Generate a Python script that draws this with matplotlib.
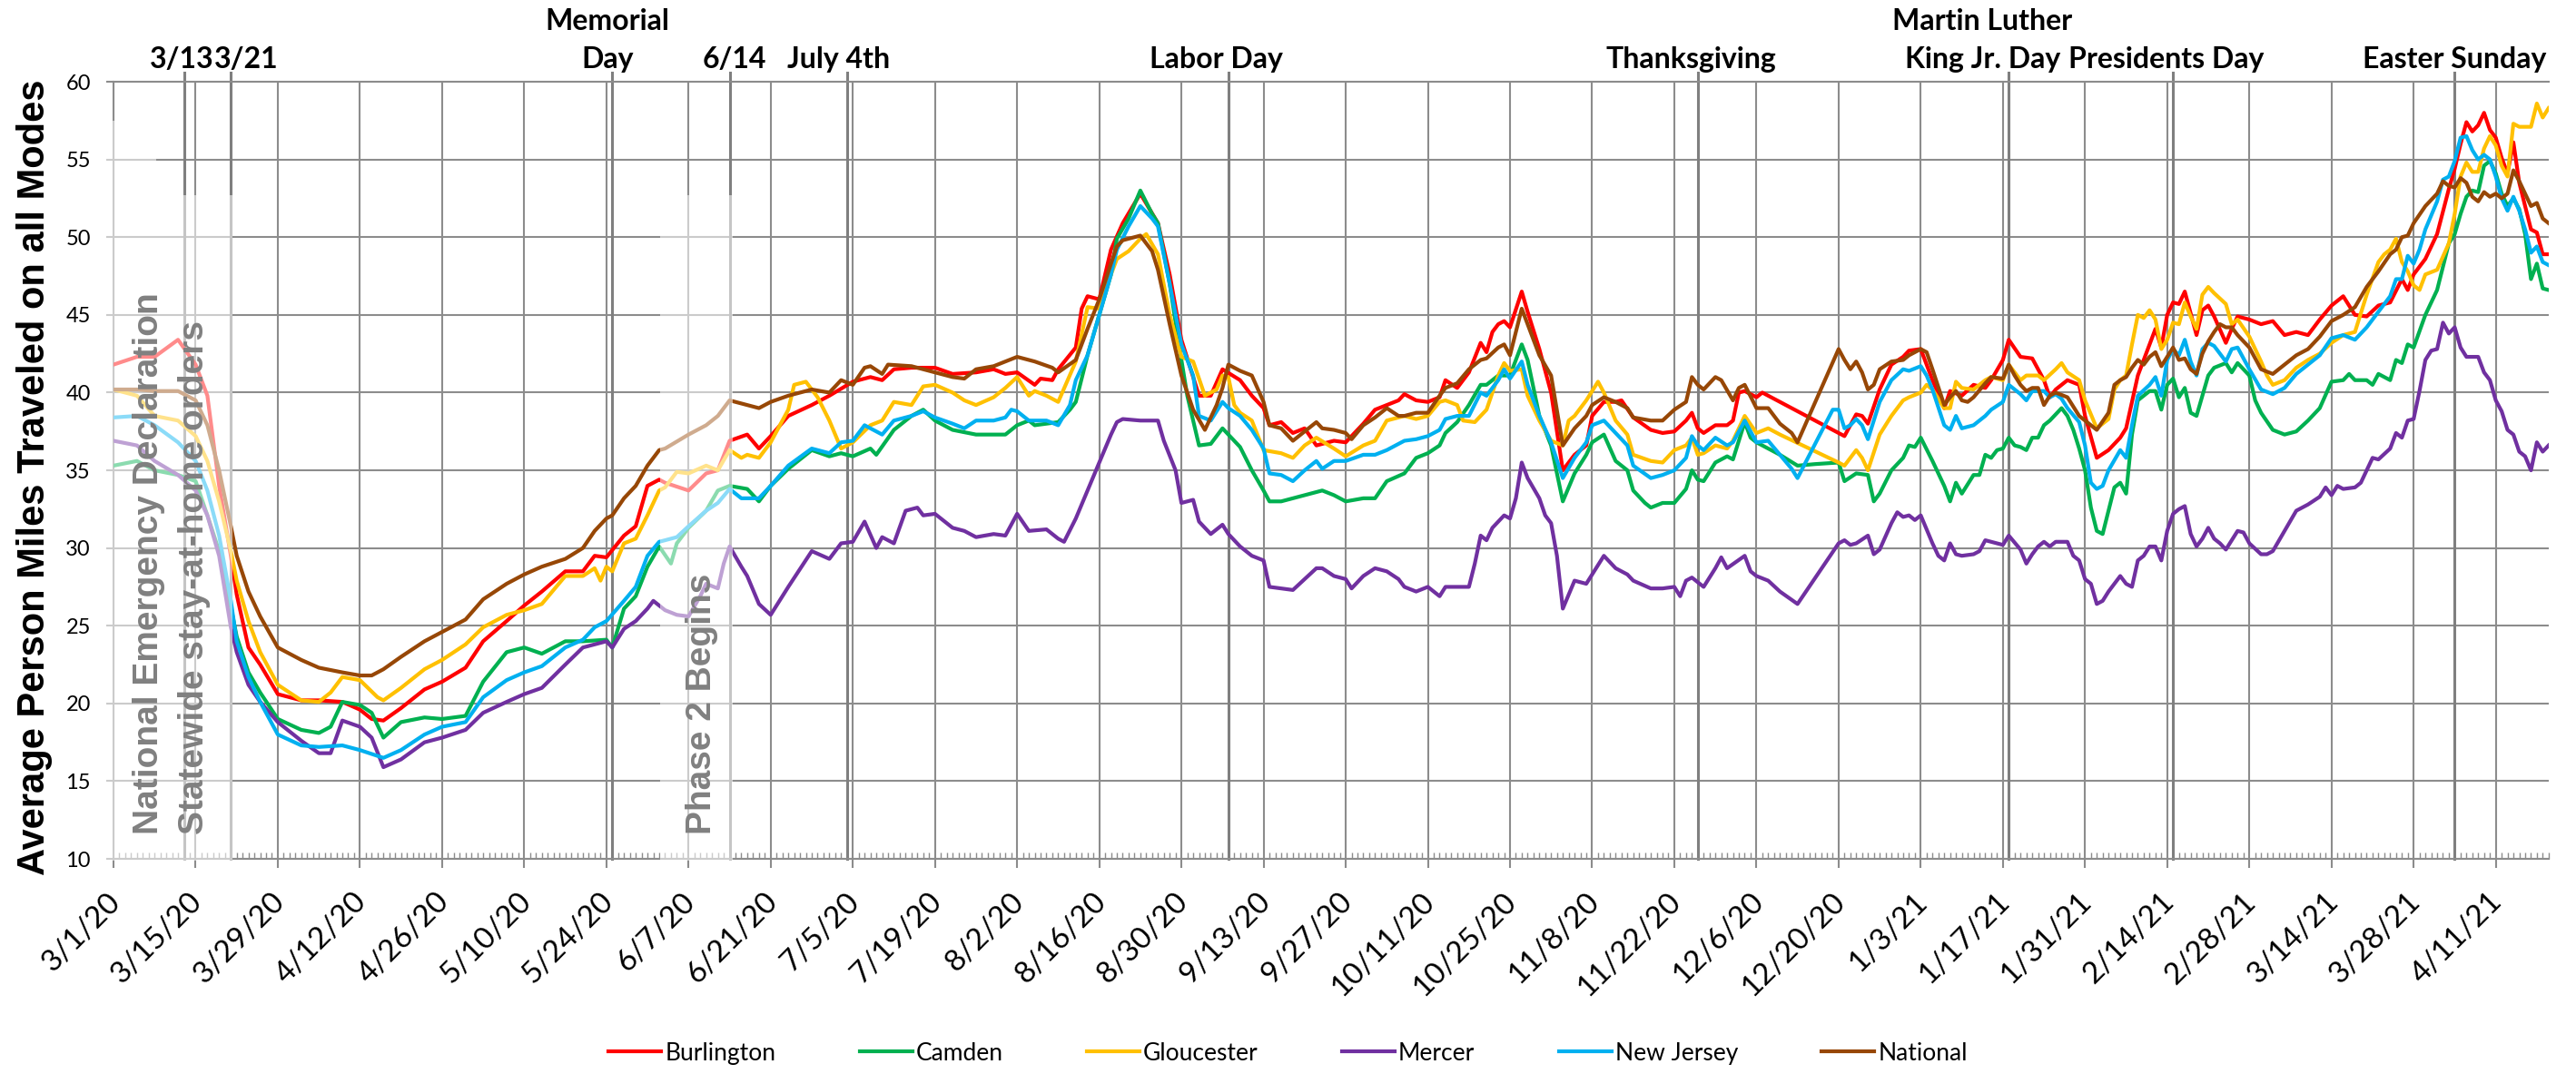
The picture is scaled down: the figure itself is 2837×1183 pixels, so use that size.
import numpy as np
import pandas as pd
import matplotlib
matplotlib.use("Agg")
import matplotlib.pyplot as plt
import matplotlib.dates as mdates
from matplotlib.patches import Rectangle
from matplotlib.ticker import FixedLocator, MultipleLocator
from matplotlib.lines import Line2D
from matplotlib.transforms import blended_transform_factory, ScaledTranslation

# ---------------- data (day offset from 3/1/2020, value) ----------------
START = pd.Timestamp("2020-03-01")
LAST_DAY = 415

burlington = [(0,41.8),(4,42.3),(7,42.3),(11,43.4),(14,41.8),(16,39.8),(18,34.0),(20,29.5),(21,27.0),(23,23.6),(25,22.5),(28,20.6),(32,20.2),(35,20.2),(39,20.1),(42,19.6),(44,19.0),(46,18.9),(49,19.7),(53,20.9),(56,21.4),(60,22.3),(63,24.0),(67,25.3),(70,26.3),(73,27.2),(77,28.5),(80,28.5),(82,29.5),(84,29.4),(87,30.8),(89,31.4),(91,34.0),(93,34.4),(94,34.2),(98,33.7),(101,34.8),(103,35.0),(105,36.9),(108,37.3),(110,36.4),(112,37.2),(115,38.5),(119,39.2),(122,39.8),(126,40.7),(129,41.0),(131,40.8),(133,41.5),(136,41.6),(140,41.6),(143,41.2),(147,41.3),(150,41.5),(152,41.2),(154,41.3),(157,40.5),(158,40.9),(160,40.8),(161,41.5),(164,42.9),(165,45.4),(166,46.2),(168,46.0),(170,49.2),(172,50.9),(175,52.8),(178,50.9),(180,47.6),(182,43.4),(185,39.8),(187,39.8),(189,41.5),(192,40.8),(194,39.8),(196,39.0),(197,37.9),(199,38.1),(201,37.4),(203,37.7),(205,36.6),(208,36.9),(210,36.8),(213,38.0),(215,38.9),(217,39.2),(219,39.5),(220,39.9),(222,39.5),(224,39.4),(226,39.7),(227,40.8),(229,40.3),(231,41.3),(233,43.2),(234,42.6),(235,43.9),(236,44.4),(237,44.6),(238,44.2),(240,46.5),(241,45.2),(243,42.8),(245,40.0),(247,35.0),(249,36.0),(251,36.6),(252,38.5),(254,39.4),(256,39.4),(257,39.5),(259,38.4),(262,37.6),(264,37.4),(266,37.5),(268,38.2),(269,38.7),(270,37.7),(271,37.4),(273,37.9),(275,37.9),(276,38.2),(277,40.0),(278,40.1),(280,39.7),(281,40.0),(295,37.2),(296,37.9),(297,38.6),(298,38.5),(299,38.0),(301,40.2),(303,41.8),(305,42.3),(306,42.7),(308,42.8),(310,40.8),(312,39.0),(313,40.1),(315,39.8),(317,40.5),(319,40.3),(320,40.8),(322,42.1),(323,43.4),(325,42.3),(327,42.2),(329,40.8),(330,39.7),(331,40.2),(333,40.8),(335,40.5),(336,38.5),(338,35.8),(340,36.3),(342,37.1),(343,37.7),(345,41.1),(347,43.1),(348,44.1),(349,42.9),(350,45.0),(351,45.8),(352,45.7),(353,46.5),(355,43.7),(356,45.3),(357,45.6),(358,44.9),(360,43.2),(361,44.1),(362,44.9),(364,44.7),(366,44.4),(368,44.6),(370,43.7),(372,43.9),(374,43.7),(376,44.7),(378,45.6),(380,46.2),(382,45.0),(384,44.9),(386,45.6),(388,45.8),(390,47.3),(391,46.6),(392,47.6),(394,48.6),(396,50.2),(398,53.1),(399,54.4),(400,56.0),(401,57.4),(402,56.8),(403,57.2),(404,58.0),(405,56.9),(406,56.4),(407,55.1),(408,54.1),(409,56.1),(410,53.5),(412,50.5),(413,50.3),(414,48.9),(415,48.9)]

camden = [(0,35.3),(4,35.6),(7,35.0),(11,34.7),(14,34.3),(16,32.1),(18,29.8),(20,26.2),(21,24.3),(23,22.0),(25,20.7),(28,19.0),(32,18.3),(35,18.1),(37,18.5),(39,20.1),(42,19.9),(44,19.4),(46,17.8),(49,18.8),(53,19.1),(56,19.0),(60,19.2),(63,21.4),(67,23.3),(70,23.6),(73,23.2),(77,24.0),(80,24.0),(84,24.1),(85,23.6),(87,26.1),(89,26.9),(91,28.8),(93,30.1),(95,29.0),(96,30.3),(98,31.3),(101,32.4),(103,33.7),(105,34.0),(108,33.8),(110,33.0),(112,34.0),(115,35.1),(119,36.3),(122,35.9),(124,36.1),(126,35.9),(129,36.4),(130,36.0),(133,37.6),(136,38.5),(138,38.9),(140,38.2),(143,37.6),(147,37.3),(150,37.3),(152,37.3),(154,37.9),(156,38.2),(157,37.9),(161,38.1),(163,38.9),(164,39.4),(166,42.4),(168,45.0),(170,47.6),(171,49.9),(173,51.2),(175,53.0),(177,51.5),(178,50.9),(180,47.0),(182,42.1),(183,39.8),(185,36.6),(187,36.7),(189,37.7),(192,36.5),(194,35.0),(196,33.7),(197,33.0),(199,33.0),(203,33.4),(206,33.7),(208,33.4),(210,33.0),(213,33.2),(215,33.2),(217,34.3),(220,34.8),(222,35.8),(224,36.1),(226,36.6),(227,37.4),(229,38.1),(231,39.2),(233,40.5),(234,40.5),(236,41.1),(238,41.1),(240,43.1),(241,42.1),(243,38.5),(245,36.6),(247,33.0),(249,34.8),(251,36.0),(252,36.8),(254,37.3),(256,35.6),(258,35.0),(259,33.7),(261,32.9),(262,32.6),(264,32.9),(266,32.9),(268,33.8),(269,35.0),(270,34.4),(271,34.3),(273,35.5),(275,35.9),(276,35.7),(278,38.1),(279,37.1),(280,36.8),(284,36.0),(287,35.3),(290,35.4),(294,35.5),(295,34.3),(297,34.8),(299,34.7),(300,33.0),(301,33.5),(303,35.0),(305,35.8),(306,36.6),(307,36.5),(308,37.1),(310,35.6),(312,34.0),(313,33.0),(314,34.2),(315,33.5),(317,34.7),(318,34.7),(319,36.0),(320,35.8),(321,36.3),(322,36.4),(323,37.1),(324,36.6),(325,36.5),(326,36.3),(327,37.1),(328,37.1),(329,37.9),(330,38.2),(332,39.0),(333,38.5),(334,37.6),(335,36.4),(336,35.0),(337,32.6),(338,31.1),(339,30.9),(340,32.4),(341,33.9),(342,34.2),(343,33.5),(344,37.3),(345,39.5),(347,40.1),(348,40.1),(349,38.9),(350,40.5),(351,40.9),(352,39.7),(353,40.3),(354,38.7),(355,38.5),(356,39.8),(357,41.1),(358,41.6),(360,41.9),(361,41.3),(362,41.9),(364,41.1),(365,39.5),(366,38.7),(368,37.6),(370,37.3),(372,37.5),(374,38.2),(376,39.0),(378,40.7),(380,40.8),(381,41.2),(382,40.8),(384,40.8),(385,40.5),(386,41.2),(388,40.8),(389,42.1),(390,41.9),(391,43.1),(392,42.9),(394,45.0),(396,46.6),(398,49.6),(399,50.2),(400,51.5),(401,52.6),(402,53.0),(403,52.9),(404,54.6),(405,54.9),(406,54.1),(407,52.8),(408,52.0),(409,52.5),(410,51.8),(411,50.2),(412,47.3),(413,48.3),(414,46.7),(415,46.6)]

gloucester = [(0,40.2),(4,39.8),(7,38.5),(11,38.2),(14,37.2),(16,35.6),(18,33.0),(20,29.8),(21,27.9),(23,25.3),(25,23.3),(28,21.2),(32,20.2),(35,20.1),(37,20.7),(39,21.7),(42,21.5),(45,20.4),(46,20.2),(49,21.0),(53,22.2),(56,22.8),(60,23.8),(63,24.9),(67,25.7),(70,26.0),(73,26.4),(77,28.2),(80,28.2),(82,28.7),(83,27.9),(84,28.8),(85,28.5),(87,30.3),(89,30.6),(91,32.1),(93,33.7),(94,33.9),(96,34.9),(98,34.8),(101,35.3),(103,35.0),(105,36.3),(107,35.8),(108,36.0),(110,35.8),(112,36.8),(115,38.9),(116,40.5),(118,40.7),(120,39.7),(122,38.2),(124,36.4),(126,36.8),(129,37.9),(131,38.2),(133,39.4),(136,39.2),(138,40.4),(140,40.5),(143,40.0),(145,39.5),(147,39.2),(150,39.7),(152,40.3),(154,41.0),(156,39.8),(157,40.1),(159,39.8),(161,39.4),(164,42.0),(166,45.5),(168,45.4),(170,47.6),(171,48.6),(173,49.1),(175,49.9),(176,50.2),(178,48.9),(180,45.0),(182,42.3),(184,42.0),(186,39.8),(188,40.2),(189,41.1),(190,41.0),(191,39.2),(192,38.7),(194,38.2),(196,36.3),(199,36.1),(201,35.8),(203,36.6),(205,37.1),(208,36.4),(210,35.9),(213,36.6),(215,36.9),(217,38.2),(220,38.5),(222,38.3),(224,38.5),(226,39.4),(227,39.5),(229,39.2),(230,38.2),(232,38.1),(234,38.9),(236,41.1),(237,41.9),(238,41.4),(240,41.5),(241,39.8),(243,38.2),(245,36.9),(247,36.6),(248,38.2),(249,38.5),(251,39.5),(253,40.7),(254,40.0),(256,38.2),(258,37.3),(259,36.0),(262,35.6),(264,35.5),(266,36.3),(268,36.6),(269,37.1),(270,36.0),(271,36.1),(273,36.6),(275,36.4),(276,36.9),(278,38.5),(280,37.4),(282,37.7),(284,37.3),(294,35.5),(295,35.3),(297,36.3),(298,35.8),(299,35.0),(301,37.3),(303,38.5),(305,39.5),(306,39.7),(308,40.0),(309,40.5),(310,40.2),(312,39.0),(313,39.0),(314,40.7),(315,40.3),(317,40.2),(319,40.8),(320,41.0),(322,40.8),(323,41.8),(325,40.8),(326,41.1),(328,41.1),(329,40.8),(331,41.5),(332,41.9),(333,41.3),(335,40.8),(336,39.5),(338,37.7),(340,38.3),(341,40.2),(342,40.8),(343,41.1),(344,43.1),(345,45.0),(346,44.8),(347,45.3),(348,44.7),(349,42.8),(350,43.4),(351,44.5),(352,44.4),(353,45.8),(354,44.9),(355,44.1),(356,46.3),(357,46.8),(358,46.4),(360,45.7),(361,44.4),(362,44.7),(364,43.6),(366,42.0),(367,41.1),(368,40.5),(370,40.8),(372,41.6),(374,42.1),(376,42.5),(378,43.2),(380,43.7),(382,43.9),(384,46.3),(386,48.4),(387,48.9),(388,49.2),(389,49.9),(390,48.4),(391,47.8),(392,46.9),(393,46.6),(394,47.6),(396,47.9),(398,49.6),(399,51.5),(400,53.9),(401,54.8),(402,54.2),(403,54.2),(404,55.7),(405,56.5),(406,55.9),(407,54.6),(408,53.9),(409,57.3),(410,57.1),(412,57.1),(413,58.6),(414,57.7),(415,58.3)]

mercer = [(0,36.9),(4,36.6),(7,35.6),(11,34.7),(14,33.7),(16,32.1),(18,29.5),(20,24.9),(21,23.3),(23,21.2),(25,20.1),(28,18.8),(32,17.6),(35,16.8),(37,16.8),(39,18.9),(42,18.5),(44,17.8),(46,15.9),(49,16.4),(53,17.5),(56,17.8),(60,18.3),(63,19.4),(67,20.1),(70,20.6),(73,21.0),(77,22.5),(80,23.6),(82,23.8),(84,24.0),(85,23.6),(87,24.8),(89,25.3),(91,26.1),(92,26.6),(94,26.0),(96,25.7),(98,25.6),(100,26.9),(101,27.7),(103,27.4),(104,29.0),(105,30.1),(107,28.8),(108,28.2),(110,26.4),(112,25.7),(115,27.5),(119,29.8),(122,29.3),(124,30.3),(126,30.4),(128,31.7),(130,30.0),(131,30.7),(133,30.3),(135,32.4),(137,32.6),(138,32.1),(140,32.2),(143,31.3),(145,31.1),(147,30.7),(150,30.9),(152,30.8),(154,32.2),(156,31.1),(159,31.2),(161,30.6),(162,30.4),(164,31.9),(166,33.7),(168,35.5),(170,37.3),(171,38.1),(172,38.3),(175,38.2),(178,38.2),(179,36.9),(181,35.0),(182,32.9),(184,33.1),(185,31.7),(187,30.9),(189,31.5),(190,30.9),(192,30.1),(194,29.5),(196,29.2),(197,27.5),(199,27.4),(201,27.3),(203,28.0),(205,28.7),(206,28.7),(208,28.2),(210,28.0),(211,27.4),(213,28.2),(215,28.7),(217,28.5),(219,28.0),(220,27.5),(222,27.2),(224,27.5),(226,26.9),(227,27.5),(229,27.5),(231,27.5),(232,29.0),(233,30.8),(234,30.5),(235,31.3),(236,31.7),(237,32.1),(238,31.9),(239,33.2),(240,35.5),(241,34.5),(243,33.2),(244,32.1),(245,31.6),(246,29.5),(247,26.1),(249,27.9),(251,27.7),(252,28.3),(254,29.5),(256,28.7),(258,28.3),(259,27.9),(262,27.4),(264,27.4),(266,27.5),(267,26.9),(268,27.9),(269,28.1),(271,27.5),(273,28.7),(274,29.4),(275,28.7),(278,29.5),(279,28.5),(280,28.2),(282,27.9),(284,27.2),(287,26.4),(294,30.3),(295,30.5),(296,30.2),(297,30.3),(299,30.8),(300,29.6),(301,29.9),(303,31.6),(304,32.3),(305,32.0),(306,32.1),(307,31.8),(308,32.1),(310,30.3),(311,29.5),(312,29.2),(313,30.3),(314,29.6),(315,29.5),(317,29.6),(318,29.8),(319,30.5),(320,30.4),(322,30.2),(323,30.8),(325,29.9),(326,29.0),(327,29.6),(328,30.1),(329,30.4),(330,30.1),(331,30.4),(333,30.4),(334,29.5),(335,29.2),(336,28.0),(337,27.7),(338,26.4),(339,26.6),(340,27.2),(342,28.2),(343,27.7),(344,27.5),(345,29.2),(346,29.5),(347,30.1),(348,30.1),(349,29.2),(350,31.1),(351,32.2),(352,32.5),(353,32.7),(354,30.9),(355,30.1),(356,30.6),(357,31.3),(358,30.6),(359,30.3),(360,29.9),(362,31.1),(363,31.0),(364,30.3),(366,29.6),(367,29.6),(368,29.8),(370,31.1),(372,32.4),(374,32.8),(376,33.3),(377,33.9),(378,33.4),(379,34.0),(380,33.8),(382,33.9),(383,34.2),(384,35.0),(385,35.8),(386,35.7),(388,36.4),(389,37.4),(390,37.1),(391,38.2),(392,38.3),(393,40.1),(394,42.1),(395,42.7),(396,42.8),(397,44.5),(398,43.8),(399,44.2),(400,42.9),(401,42.3),(403,42.3),(404,41.3),(405,40.8),(406,39.5),(407,38.8),(408,37.6),(409,37.3),(410,36.2),(411,35.9),(412,35.0),(413,36.8),(414,36.2),(415,36.6)]

new_jersey = [(0,38.4),(4,38.5),(7,37.9),(11,36.8),(14,35.6),(16,33.7),(18,30.8),(20,26.6),(21,24.0),(23,21.7),(25,20.1),(28,18.0),(32,17.3),(35,17.2),(39,17.3),(42,17.0),(46,16.5),(49,17.0),(53,18.0),(56,18.5),(60,18.8),(63,20.4),(67,21.5),(70,22.0),(73,22.4),(77,23.6),(80,24.1),(82,24.9),(84,25.3),(87,26.6),(89,27.5),(91,29.5),(93,30.4),(96,30.7),(98,31.4),(101,32.4),(103,32.9),(105,33.8),(107,33.2),(110,33.2),(112,34.0),(115,35.3),(119,36.4),(122,36.1),(124,36.8),(126,36.9),(128,37.9),(131,37.3),(133,38.2),(136,38.5),(138,38.8),(140,38.4),(143,38.0),(145,37.7),(147,38.2),(150,38.2),(152,38.4),(153,38.9),(154,38.8),(156,38.2),(159,38.2),(161,37.9),(163,39.2),(164,40.8),(166,42.4),(168,45.0),(170,47.6),(171,49.2),(173,50.7),(175,52.0),(177,51.2),(178,50.7),(180,47.0),(182,43.1),(184,41.1),(185,38.5),(187,38.2),(189,39.4),(190,39.0),(192,38.5),(194,37.6),(196,36.4),(197,34.8),(199,34.7),(201,34.3),(203,35.0),(205,35.6),(206,35.1),(208,35.6),(210,35.6),(213,36.0),(215,36.0),(217,36.3),(220,36.9),(222,37.0),(224,37.2),(226,37.6),(227,38.3),(229,38.5),(231,38.5),(233,40.0),(234,39.8),(236,40.8),(237,41.5),(238,40.9),(240,42.0),(241,40.5),(243,38.5),(245,36.8),(247,34.5),(249,35.8),(251,36.8),(252,37.9),(254,38.2),(256,37.4),(258,36.6),(259,35.3),(262,34.5),(264,34.7),(266,35.0),(268,35.8),(269,37.2),(270,36.6),(271,36.3),(273,37.1),(275,36.6),(276,36.8),(278,38.2),(280,36.8),(282,36.9),(284,36.0),(286,35.1),(287,34.5),(293,38.9),(294,38.9),(295,37.7),(296,37.9),(297,38.3),(298,37.9),(299,37.0),(301,39.4),(303,40.8),(305,41.5),(306,41.4),(308,41.7),(309,41.1),(310,40.2),(312,37.9),(313,37.6),(314,38.5),(315,37.7),(317,37.9),(319,38.5),(320,38.9),(322,39.4),(323,40.5),(325,39.9),(326,39.5),(327,40.1),(329,40.1),(330,39.7),(331,39.9),(332,39.6),(333,39.0),(335,38.1),(336,36.6),(337,34.2),(338,33.8),(339,34.0),(340,35.0),(342,36.3),(343,35.8),(344,37.9),(345,39.8),(347,40.5),(348,41.0),(349,39.8),(350,42.1),(351,42.8),(352,42.4),(353,43.4),(354,42.0),(355,41.1),(356,42.8),(357,43.2),(358,43.0),(360,42.0),(361,42.8),(362,42.9),(364,41.5),(366,40.2),(368,39.9),(370,40.3),(372,41.2),(374,41.8),(376,42.4),(378,43.5),(380,43.7),(382,43.4),(384,44.2),(386,45.2),(388,46.2),(389,47.3),(390,47.3),(391,48.8),(392,48.3),(393,49.2),(394,50.5),(396,52.3),(397,53.7),(398,53.9),(399,54.9),(400,56.4),(401,56.5),(402,55.6),(403,55.0),(404,55.3),(405,55.0),(406,53.9),(407,52.5),(408,51.7),(409,52.6),(410,51.7),(411,50.5),(412,49.0),(413,49.4),(414,48.4),(415,48.2)]

national = [(0,40.2),(4,40.2),(7,40.1),(11,40.1),(14,39.5),(16,37.9),(18,35.0),(20,31.4),(21,29.5),(23,27.2),(25,25.6),(28,23.6),(32,22.8),(35,22.3),(39,22.0),(42,21.8),(44,21.8),(46,22.2),(49,23.0),(53,24.0),(56,24.6),(60,25.4),(63,26.7),(67,27.7),(70,28.3),(73,28.8),(77,29.3),(80,30.0),(82,31.1),(84,31.9),(85,32.1),(87,33.2),(89,34.0),(91,35.3),(93,36.3),(94,36.4),(98,37.3),(101,37.9),(103,38.5),(105,39.5),(108,39.2),(110,39.0),(112,39.4),(115,39.8),(119,40.2),(122,40.0),(124,40.8),(126,40.5),(128,41.6),(129,41.7),(131,41.2),(132,41.8),(136,41.7),(138,41.5),(140,41.3),(143,41.0),(145,40.9),(147,41.5),(150,41.7),(152,42.0),(154,42.3),(157,42.0),(160,41.6),(161,41.3),(164,42.1),(166,44.1),(168,46.0),(170,48.3),(171,49.4),(172,49.8),(175,50.1),(177,49.1),(178,47.9),(180,44.4),(182,41.1),(184,38.9),(186,37.6),(188,39.2),(189,40.3),(190,41.8),(192,41.4),(194,41.1),(196,39.4),(197,37.9),(199,37.7),(201,36.9),(203,37.5),(205,38.1),(206,37.7),(208,37.6),(210,37.4),(211,37.0),(213,37.9),(215,38.4),(217,39.0),(219,38.5),(220,38.5),(222,38.7),(224,38.7),(226,39.8),(227,40.3),(229,40.6),(231,41.5),(233,42.1),(234,42.2),(236,42.9),(237,43.1),(238,42.4),(240,45.4),(241,44.4),(243,42.4),(245,41.1),(247,36.6),(249,37.7),(251,38.5),(252,39.2),(254,39.7),(256,39.4),(258,39.0),(259,38.4),(262,38.2),(264,38.2),(266,38.9),(268,39.4),(269,41.0),(270,40.5),(271,40.2),(273,41.0),(274,40.8),(276,39.5),(277,40.3),(278,40.5),(280,39.0),(282,39.0),(284,38.0),(286,37.4),(287,36.8),(294,42.8),(295,42.1),(296,41.5),(297,42.0),(298,41.3),(299,40.2),(300,40.5),(301,41.5),(303,42.0),(305,42.1),(306,42.4),(308,42.8),(309,42.6),(310,41.5),(312,39.2),(313,39.7),(314,40.1),(315,39.5),(316,39.4),(317,39.7),(319,40.6),(320,41.0),(322,40.9),(323,41.8),(324,41.1),(325,40.5),(326,40.1),(327,40.3),(328,40.3),(329,39.2),(330,39.8),(331,40.0),(333,39.7),(334,39.1),(335,38.5),(336,38.2),(338,37.6),(340,38.7),(341,40.5),(342,40.8),(343,41.0),(344,41.6),(345,42.1),(346,41.8),(347,42.3),(348,42.6),(349,41.7),(350,42.3),(351,42.9),(352,42.1),(353,42.2),(354,41.5),(355,41.2),(356,42.5),(357,43.3),(358,43.9),(359,44.4),(360,44.2),(361,44.2),(362,43.7),(364,42.9),(366,41.5),(368,41.2),(370,41.8),(372,42.4),(374,42.8),(376,43.6),(378,44.6),(380,45.0),(382,45.5),(384,46.8),(386,47.8),(388,48.9),(389,49.2),(390,50.0),(391,50.1),(392,50.9),(394,52.0),(396,52.8),(397,53.6),(398,53.3),(399,53.2),(400,53.8),(401,53.5),(402,52.6),(403,52.3),(404,52.9),(405,52.6),(406,52.8),(407,52.5),(408,52.8),(409,54.3),(410,53.6),(411,52.8),(412,52.0),(413,52.2),(414,51.2),(415,50.9)]

series_names = ["Burlington", "Camden", "Gloucester", "Mercer", "New Jersey", "National"]
series_data = [burlington, camden, gloucester, mercer, new_jersey, national]
series_colors = ["#FF0000", "#00B050", "#FFC000", "#7030A0", "#00B0F0", "#974706"]

event_dates = ["2020-03-13", "2020-03-21", "2020-05-25", "2020-06-14", "2020-07-04",
               "2020-09-07", "2020-11-26", "2021-01-18", "2021-02-15", "2021-04-04"]
event_labels = ["3/13", "3/21", "Memorial\nDay", "6/14", "July 4th",
                "Labor Day", "Thanksgiving", "Martin Luther\nKing Jr. Day",
                "Presidents Day", "Easter Sunday"]
# horizontal shift (days) of each label relative to its line
label_shift = [-0.3, 2.7, -0.8, 0.8, -1.4, -2.1, -1.2, -4.5, -1.2, 0.0]

note_texts = ["National Emergency Declaration", "Statewide stay-at-home orders", "Phase 2 Begins"]
note_days = [6.0, 13.8, 100.2]

# ---------------- fonts ----------------
CAL = ["Lato", "DejaVu Sans"]
ARIAL = ["Liberation Sans", "DejaVu Sans"]
GRID = "#8c8c8c"

fig = plt.figure(figsize=(28.37, 11.83), dpi=100)
fig.patch.set_facecolor("white")
ax = fig.add_axes([0.04406, 0.2003, 0.9453, 0.7236])

base = mdates.date2num(START)

def days_to_dates(days):
    return START + pd.to_timedelta(np.asarray(days, dtype=float), unit="D")

for name, data, col in zip(series_names, series_data, series_colors):
    d = [p[0] for p in data]
    v = [p[1] for p in data]
    ax.plot(days_to_dates(d), v, color=col, lw=3.0, label=name, zorder=3,
            solid_joinstyle="round")

ax.set_xlim(base, base + LAST_DAY)
ax.set_ylim(10, 60)

major = pd.date_range(START, START + pd.Timedelta(days=LAST_DAY), freq="14D")
ax.xaxis.set_major_locator(FixedLocator(mdates.date2num(major)))
ax.set_xticklabels([f"{t.month}/{t.day}/{t.strftime('%y')}" for t in major])
ax.xaxis.set_minor_locator(mdates.DayLocator())
ax.yaxis.set_major_locator(MultipleLocator(5))

ax.grid(True, which="major", color=GRID, lw=1.5, zorder=1)
ax.set_axisbelow(True)

ax.spines["right"].set_visible(False)
for s in ["left", "bottom", "top"]:
    ax.spines[s].set_color(GRID)
    ax.spines[s].set_linewidth(1.5)

ax.tick_params(axis="x", which="major", direction="out", length=7, width=1.5,
               color=GRID, pad=16, labelsize=24)
ax.tick_params(axis="x", which="minor", direction="in", length=5, width=1.0, color=GRID)
ax.tick_params(axis="y", which="major", direction="out", length=6, width=1.5,
               color=GRID, pad=12, labelsize=17)
shift = ScaledTranslation(-8 / 100, 0, fig.dpi_scale_trans)
for lab in ax.get_xticklabels():
    lab.set_rotation(45)
    lab.set_ha("right")
    lab.set_va("top")
    lab.set_rotation_mode("anchor")
    lab.set_family(CAL)
    lab.set_transform(lab.get_transform() + shift)
for lab in ax.get_yticklabels():
    lab.set_family(CAL)

# event lines and labels
trans = blended_transform_factory(ax.transData, ax.transAxes)
for ds, lab, sh in zip(event_dates, event_labels, label_shift):
    x = mdates.date2num(pd.Timestamp(ds))
    ax.axvline(x, ymin=0, ymax=1.012, color="#7f7f7f", lw=2.2, zorder=1.5, clip_on=False)
    lines = lab.split("\n")
    offs = [10.8] if len(lines) == 1 else [41.0, 10.8]
    for ln, off in zip(lines, offs):
        ax.annotate(ln, xy=(x + sh, 1.0), xycoords=trans, xytext=(0, off),
                    textcoords="offset points", ha="center", va="baseline",
                    fontsize=23, fontweight="bold", family=CAL, color="black",
                    annotation_clip=False)

# semi-transparent white text boxes
boxes = [(-1.5, 7.3, 57.5), (7.3, 20.3, 52.7), (93.1, 105.5, 52.7)]
for x0, x1, ytop in boxes:
    ax.add_patch(Rectangle((base + x0, 9.9), x1 - x0, ytop - 9.9, facecolor="white",
                           edgecolor="none", alpha=0.55, zorder=4, clip_on=False))

for txt, dd in zip(note_texts, note_days):
    ax.text(base + dd, 11.6, txt, rotation=90, ha="center", va="bottom",
            color="#808080", fontsize=28, fontweight="bold", family=ARIAL, zorder=6)

fig.text(0.0134, 0.556, "Average Person Miles Traveled on all Modes", rotation=90,
         ha="center", va="center", fontsize=30, fontweight="bold", family=ARIAL)

handles = [Line2D([0], [0], color=c, lw=3.0) for c in series_colors]
leg = fig.legend(handles, series_names, loc="center", bbox_to_anchor=(0.5, 0.0194),
                 ncol=6, frameon=False, handlelength=2.2, handletextpad=0.15,
                 columnspacing=3.5, prop={"family": CAL, "size": 19})

fig.savefig("out.png", dpi=100, facecolor="white")
